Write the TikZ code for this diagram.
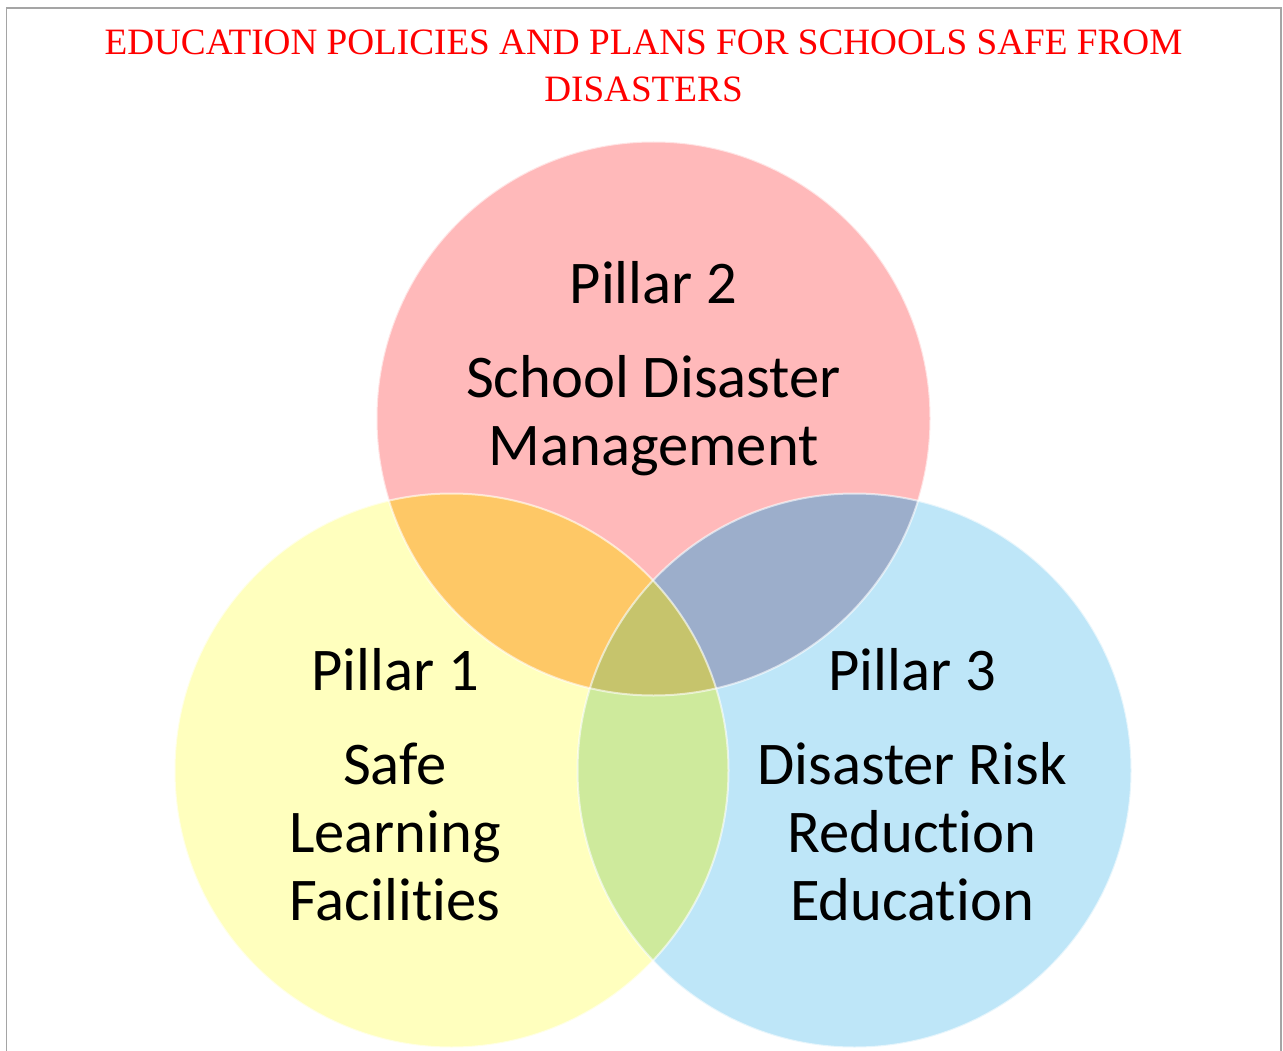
\documentclass[tikz,border=0pt]{standalone}
\usepackage{fontspec}
\setmainfont{Liberation Serif}
\newfontfamily\pillarfont[Ligatures=NoCommon]{Carlito}

\definecolor{pillarPink}{RGB}{255,185,186}
\definecolor{pillarYellow}{RGB}{255,255,190}
\definecolor{pillarBlue}{RGB}{190,230,248}
\definecolor{mixOrange}{RGB}{254,200,102}
\definecolor{mixSlate}{RGB}{156,174,203}
\definecolor{mixGreen}{RGB}{206,234,156}
\definecolor{mixOlive}{RGB}{198,196,108}
\definecolor{frameGray}{RGB}{165,165,165}

\begin{document}
\begin{tikzpicture}[
    x=1pt, y=-1pt,
    titleText/.style={
        text=red,
        align=center,
        font=\fontsize{37.2pt}{47pt}\selectfont
    },
    pillarText/.style={
        text=black,
        align=center,
        inner sep=0pt,
        font=\pillarfont\fontsize{60.6pt}{68pt}\selectfont
    },
    circleEdge/.style={
        draw=white,
        draw opacity=0.6,
        line width=2pt
    }
]
\useasboundingbox (0,0) rectangle (1283,1051);

% ==================== FRAME & TITLE ====================
\draw[frameGray, line width=1.5pt] (6.5,1060) -- (6.5,8) -- (1281,8) -- (1281,1060);
\node[titleText, anchor=base] (title) at (643.5,102) {EDUCATION POLICIES AND PLANS FOR SCHOOLS SAFE FROM\\DISASTERS};

% ==================== THREE PILLARS ====================
\coordinate (ctrTop) at (653.5,418.5);
\coordinate (ctrLeft) at (451.5,770.5);
\coordinate (ctrRight) at (854.5,770.5);
\def\pillarR{277pt}

\fill[pillarPink] (ctrTop) circle (\pillarR);
\fill[pillarYellow] (ctrLeft) circle (\pillarR);
\fill[pillarBlue] (ctrRight) circle (\pillarR);

% pairwise overlaps
\begin{scope}
    \clip (ctrTop) circle (\pillarR);
    \fill[mixOrange] (ctrLeft) circle (\pillarR);
    \fill[mixSlate] (ctrRight) circle (\pillarR);
\end{scope}
\begin{scope}
    \clip (ctrLeft) circle (\pillarR);
    \fill[mixGreen] (ctrRight) circle (\pillarR);
\end{scope}
% centre of all three
\begin{scope}
    \clip (ctrTop) circle (\pillarR);
    \clip (ctrLeft) circle (\pillarR);
    \fill[mixOlive] (ctrRight) circle (\pillarR);
\end{scope}

\draw[circleEdge] (ctrTop) circle (\pillarR);
\draw[circleEdge] (ctrLeft) circle (\pillarR);
\draw[circleEdge] (ctrRight) circle (\pillarR);

% ==================== LABELS ====================
% multi-line nodes sit on the baseline of their last line
\node[pillarText, anchor=base] (pillarTwo) at (653.5,303) {Pillar 2};
\node[pillarText, anchor=base] (pillarTwoText) at (653.5,465) {School Disaster\\Management};

\node[pillarText, anchor=base] (pillarOne) at (395,690) {Pillar 1};
\node[pillarText, anchor=base] (pillarOneText) at (395,920) {Safe\\Learning\\Facilities};

\node[pillarText, anchor=base] (pillarThree) at (912,690) {Pillar 3};
\node[pillarText, anchor=base] (pillarThreeText) at (912,920) {Disaster Risk\\Reduction\\Education};

\end{tikzpicture}
\end{document}
